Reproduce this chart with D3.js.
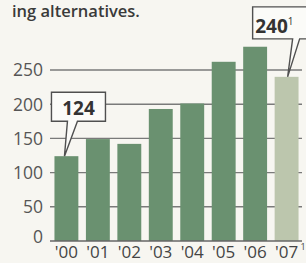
<!DOCTYPE html>
<html>
<head>
<meta charset="utf-8">
<script src="https://cdn.jsdelivr.net/npm/d3@7"></script>
<style>
  body { margin: 0; background: #f7f6f1; }
  svg { display: block; }
</style>
</head>
<body>
<script>
var years = ["'00", "'01", "'02", "'03", "'04", "'05", "'06", "'07"];
var values = [124, 149, 142, 193, 201, 262, 284, 240];
var yTicks = [0, 50, 100, 150, 200, 250];

var w = 306, h = 263;

var svg = d3.select("body")
    .append("svg")
    .attr("width", w)
    .attr("height", h);

// caption fragment from the text above the chart
svg.append("text")
    .attr("x", 12)
    .attr("y", 17)
    .attr("font-family", "Open Sans")
    .attr("font-weight", 600)
    .attr("font-size", "16.5px")
    .attr("fill", "#3a3a3a")
    .text("ing alternatives.");

var x = d3.scaleBand()
    .domain(years)
    .range([51, 302])
    .paddingInner(0.24)
    .paddingOuter(0.11);

var y = d3.scaleLinear()
    .domain([0, 250])
    .range([241, 70]);

// gridlines
svg.selectAll("line.grid")
    .data(yTicks.slice(1))
    .enter()
    .append("line")
    .attr("class", "grid")
    .attr("x1", 50)
    .attr("x2", 302)
    .attr("y1", function(d) { return y(d); })
    .attr("y2", function(d) { return y(d); })
    .attr("stroke", "#7a7a7a")
    .attr("stroke-width", 1.4);

// y labels
svg.selectAll("text.ylab")
    .data(yTicks)
    .enter()
    .append("text")
    .attr("class", "ylab")
    .attr("x", 43)
    .attr("y", function(d) { return d === 0 ? y(d) - 4 : y(d); })
    .attr("dy", "0.36em")
    .attr("text-anchor", "end")
    .attr("font-family", "Open Sans")
    .attr("font-size", "17.5px")
    .attr("fill", "#555")
    .text(function(d) { return d; });

// bars
svg.selectAll("rect.bar")
    .data(values)
    .enter()
    .append("rect")
    .attr("class", "bar")
    .attr("x", function(d, i) { return x(years[i]); })
    .attr("y", function(d) { return y(d); })
    .attr("width", x.bandwidth())
    .attr("height", function(d) { return y(0) - y(d); })
    .attr("fill", function(d, i) { return i === 7 ? "#bcc6ad" : "#6a9170"; });

// baseline
svg.append("line")
    .attr("x1", 50)
    .attr("x2", 302)
    .attr("y1", y(0))
    .attr("y2", y(0))
    .attr("stroke", "#666")
    .attr("stroke-width", 1.5);

// x labels
svg.selectAll("text.xlab")
    .data(years)
    .enter()
    .append("text")
    .attr("class", "xlab")
    .attr("x", function(d) { return x(d) + x.bandwidth() / 2; })
    .attr("y", 258)
    .attr("text-anchor", "middle")
    .attr("font-family", "Open Sans")
    .attr("font-size", "17px")
    .attr("fill", "#444")
    .text(function(d) { return d; });

svg.append("text")
    .attr("x", x("'07") + x.bandwidth() + 2)
    .attr("y", 250)
    .attr("font-family", "Open Sans")
    .attr("font-size", "9px")
    .attr("fill", "#444")
    .text("1");

// callout boxes
function callout(i, dx0, dx1, gap, bh, b1, b2, tipDx, label, sup) {
    var bx = x(years[i]);
    var ty = y(values[i]);
    var bottom = ty - gap, top = bottom - bh;
    var x0 = bx + dx0, x1 = bx + dx1;
    var p = "M" + x0 + "," + top + "H" + x1 + "V" + bottom +
        "H" + (bx + b2) + "L" + (bx + tipDx) + "," + ty +
        "L" + (bx + b1) + "," + bottom + "H" + x0 + "Z";
    svg.append("path")
        .attr("d", p)
        .attr("fill", "#fbfbf8")
        .attr("stroke", "#505050")
        .attr("stroke-width", 1.4)
        .attr("stroke-linejoin", "miter");
    var t = svg.append("text")
        .attr("x", (x0 + Math.min(x1, 300)) / 2 + (sup ? -2 : 0))
        .attr("y", bottom - 6)
        .attr("text-anchor", "middle")
        .attr("font-family", "Open Sans")
        .attr("font-weight", 700)
        .attr("font-size", "19px")
        .attr("fill", "#333")
        .text(label);
    if (sup) {
        t.append("tspan")
            .attr("font-size", "10px")
            .attr("font-weight", 400)
            .attr("dy", "-0.8em")
            .text(sup);
    }
}

callout(0, -3, 51, 35, 29, 13, 23, 10, "124", null);
callout(7, -22, 34, 38, 32, 18, 25, 13, "240", "1");
</script>
</body>
</html>
